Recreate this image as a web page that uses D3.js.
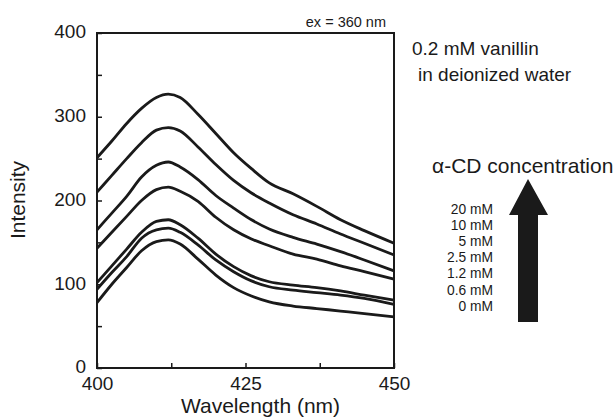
<!DOCTYPE html>
<html>
<head>
<meta charset="UTF-8">
<title>Vanillin fluorescence with alpha-CD</title>
<style>
  body { margin: 0; background: #fff; }
  svg { font-family: "Liberation Sans", Arial, sans-serif; }
  .axis path { display: none; }
  .axis line { stroke: #1a1a1a; stroke-width: 1.5; }
  .axis text { font-size: 19px; fill: #1a1a1a; }
</style>
</head>
<body>
<script src="https://cdn.jsdelivr.net/npm/d3@7/dist/d3.min.js"></script>
<script>
// wavelengths (nm) at which the traces were read
const wavelengths = [400, 402.5, 405, 407.5, 410, 412, 414, 417, 420, 423, 426, 429, 433, 437, 441, 445, 450];

// alpha-CD concentrations, top trace first
const concentrations = ["20 mM", "10 mM", "5 mM", "2.5 mM", "1.2 mM", "0.6 mM", "0 mM"];

// intensity of each trace, same order as concentrations
const i20  = [251, 271, 292, 310, 323, 327, 323, 303, 280, 257, 238, 221, 208, 193, 177, 164, 149];
const i10  = [210, 230, 250, 269, 284, 287, 283, 264, 243, 224, 209, 197, 183, 172, 160, 149, 135];
const i5   = [165, 185, 205, 228, 242, 246, 240, 225, 206, 191, 177, 166, 156, 148, 139, 129, 116];
const i2_5 = [143, 162, 181, 200, 213, 216, 211, 199, 180, 165, 154, 146, 136, 130, 122, 115, 106];
const i1_2 = [102, 122, 142, 162, 175, 177, 171, 155, 136, 121, 110, 103, 99, 96, 92, 87, 81];
const i0_6 = [94, 114, 133, 155, 165, 167, 162, 147, 129, 115, 104, 97, 93, 90, 87, 83, 76];
const i0   = [78, 100, 120, 140, 151, 153, 148, 130, 111, 96, 86, 79, 74, 71, 68, 65, 61];
const series = [i20, i10, i5, i2_5, i1_2, i0_6, i0];

const xTicks = [400, 412.5, 425, 437.5, 450];
const yTicks = [0, 50, 100, 150, 200, 250, 300, 350, 400];

const width = 616, height = 418;
const margin = {left: 97, right: 222, top: 33, bottom: 50};

const svg = d3.select("body").append("svg")
  .attr("width", width)
  .attr("height", height);

const x = d3.scaleLinear().domain([400, 450]).range([margin.left, width - margin.right]);
const y = d3.scaleLinear().domain([0, 400]).range([height - margin.bottom, margin.top]);

// axes with inward ticks
svg.append("g")
  .attr("class", "axis")
  .attr("transform", `translate(${margin.left},0)`)
  .call(d3.axisLeft(y).tickValues(yTicks).tickSizeInner(-5).tickSizeOuter(0).tickPadding(11)
    .tickFormat(d => d % 100 === 0 ? d : ""))
  .selectAll("text").attr("dy", "0.26em");

svg.append("g")
  .attr("class", "axis")
  .attr("transform", `translate(0,${y(0)})`)
  .call(d3.axisBottom(x).tickValues(xTicks).tickSizeInner(-5).tickSizeOuter(0).tickPadding(9)
    .tickFormat(d => Number.isInteger(d) ? d : ""));

// frame
svg.append("rect")
  .attr("x", x(400)).attr("y", y(400))
  .attr("width", x(450) - x(400)).attr("height", y(0) - y(400))
  .attr("fill", "none").attr("stroke", "#1a1a1a").attr("stroke-width", 2);

// traces
const line = d3.line()
  .x((d, i) => x(wavelengths[i]))
  .y(d => y(d))
  .curve(d3.curveMonotoneX);

svg.append("g")
  .selectAll("path")
  .data(series)
  .join("path")
    .attr("d", line)
    .attr("fill", "none")
    .attr("stroke", "#1a1a1a")
    .attr("stroke-width", 2.8)
    .attr("stroke-linejoin", "round");

// axis titles
svg.append("text")
  .attr("x", x(425) + 15).attr("y", 413)
  .attr("text-anchor", "middle")
  .attr("font-size", 21).attr("fill", "#1a1a1a")
  .text("Wavelength (nm)");

svg.append("text")
  .attr("transform", "translate(25,200) rotate(-90)")
  .attr("text-anchor", "middle")
  .attr("font-size", 21).attr("fill", "#1a1a1a")
  .text("Intensity");

// annotations
svg.append("text")
  .attr("x", 386).attr("y", 27)
  .attr("text-anchor", "end")
  .attr("font-size", 14.5).attr("fill", "#1a1a1a")
  .text("ex = 360 nm");

svg.append("text")
  .attr("x", 412).attr("y", 55)
  .attr("font-size", 19).attr("fill", "#1a1a1a")
  .text("0.2 mM vanillin");

svg.append("text")
  .attr("x", 418).attr("y", 81)
  .attr("font-size", 19).attr("fill", "#1a1a1a")
  .text("in deionized water");

svg.append("text")
  .attr("x", 432).attr("y", 173)
  .attr("font-size", 21).attr("fill", "#1a1a1a")
  .text("\u03b1-CD concentration");

// stacked concentration labels (tight, as in the original)
svg.append("g")
  .selectAll("text")
  .data(concentrations)
  .join("text")
    .attr("x", 493)
    .attr("y", (d, i) => 214 + i * 16.1)
    .attr("text-anchor", "end")
    .attr("font-size", 13.8).attr("fill", "#1a1a1a")
    .text(d => d);

// big arrow
svg.append("path")
  .attr("d", "M518,322 L538,322 L538,215 L548,215 L528,179 L509,215 L518,215 Z")
  .attr("fill", "#1a1a1a");
</script>
</body>
</html>
